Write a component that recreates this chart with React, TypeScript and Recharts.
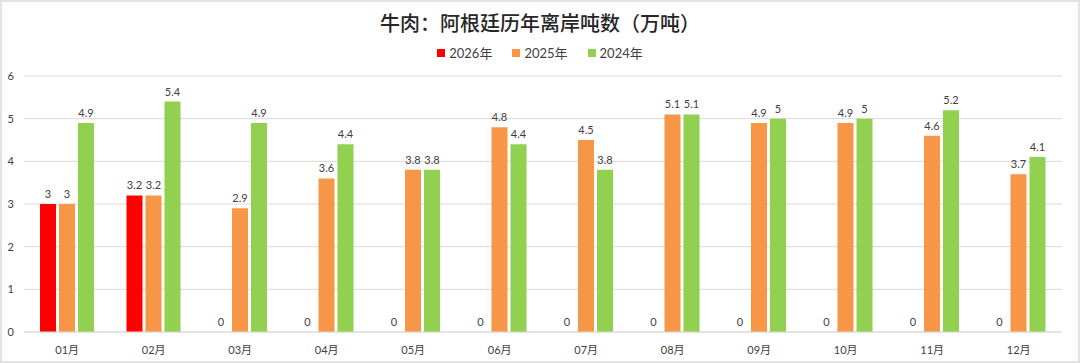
import React from 'react';
import { BarChart, Bar, XAxis, YAxis, CartesianGrid, LabelList } from 'recharts';

const months = ['01月', '02月', '03月', '04月', '05月', '06月', '07月', '08月', '09月', '10月', '11月', '12月'];
const y2026 = [3, 3.2, 0, 0, 0, 0, 0, 0, 0, 0, 0, 0];
const y2025 = [3, 3.2, 2.9, 3.6, 3.8, 4.8, 4.5, 5.1, 4.9, 4.9, 4.6, 3.7];
const y2024 = [4.9, 5.4, 4.9, 4.4, 3.8, 4.4, 3.8, 5.1, 5, 5, 5.2, 4.1];
const yTicks = [0, 1, 2, 3, 4, 5, 6];

const data = months.map((m, i) => ({ month: m, a2026: y2026[i], a2025: y2025[i], a2024: y2024[i] }));

const FONT = "Lato, 'Noto Sans CJK SC', sans-serif";

const series = [
  { key: 'a2026', name: '2026年', color: '#FF0000' },
  { key: 'a2025', name: '2025年', color: '#F79646' },
  { key: 'a2024', name: '2024年', color: '#92D050' },
];

const renderLabel = (props: any) => {
  const { x, y, width, value } = props;
  if (value === undefined || value === null) return null;
  return (
    <text x={Number(x) + Number(width) / 2} y={Number(y) - 6} textAnchor="middle" fontSize={11} fill="#404040" fontFamily={FONT}>
      {value}
    </text>
  );
};

export default function App() {
  return (
    <div style={{ position: 'fixed', left: 0, top: 0, width: 1080, height: 363, background: '#fff', boxSizing: 'border-box', border: '2px solid #e3e3e3' }}>
      <div style={{ position: 'absolute', left: 0, top: 6, width: 1076, textAlign: 'center', fontFamily: "'Noto Sans CJK SC', sans-serif", fontSize: 20, fontWeight: 500, color: '#262626' }}>
        牛肉：阿根廷历年离岸吨数（万吨）
      </div>
      <div style={{ position: 'absolute', left: 0, top: 41, width: 1076, display: 'flex', justifyContent: 'center', gap: 20, fontFamily: FONT, fontSize: 13, color: '#404040' }}>
        {series.map((s) => (
          <div key={s.key} style={{ display: 'flex', alignItems: 'center' }}>
            <span style={{ display: 'inline-block', width: 8, height: 8, background: s.color, marginRight: 4 }} />
            <span>{s.name}</span>
          </div>
        ))}
      </div>
      <div style={{ position: 'absolute', left: -2, top: -2 }}>
        <BarChart width={1080} height={363} data={data} margin={{ top: 76, right: 18, left: 0, bottom: 1 }} barGap={3} barCategoryGap={16}>
          <CartesianGrid vertical={false} stroke="#d9d9d9" />
          <XAxis dataKey="month" axisLine={{ stroke: '#d9d9d9' }} tickLine={false} tick={{ fontSize: 11, fill: '#404040', fontFamily: FONT }} tickMargin={8} height={30} />
          <YAxis domain={[0, 6]} ticks={yTicks} axisLine={false} tickLine={false} tickSize={0} tickMargin={10} width={24} tick={{ fontSize: 11, fill: '#404040', fontFamily: FONT }} />
          {series.map((s) => (
            <Bar key={s.key} dataKey={s.key} name={s.name} fill={s.color} minPointSize={0.01} isAnimationActive={false}>
              <LabelList dataKey={s.key} content={renderLabel} />
            </Bar>
          ))}
        </BarChart>
      </div>
    </div>
  );
}
